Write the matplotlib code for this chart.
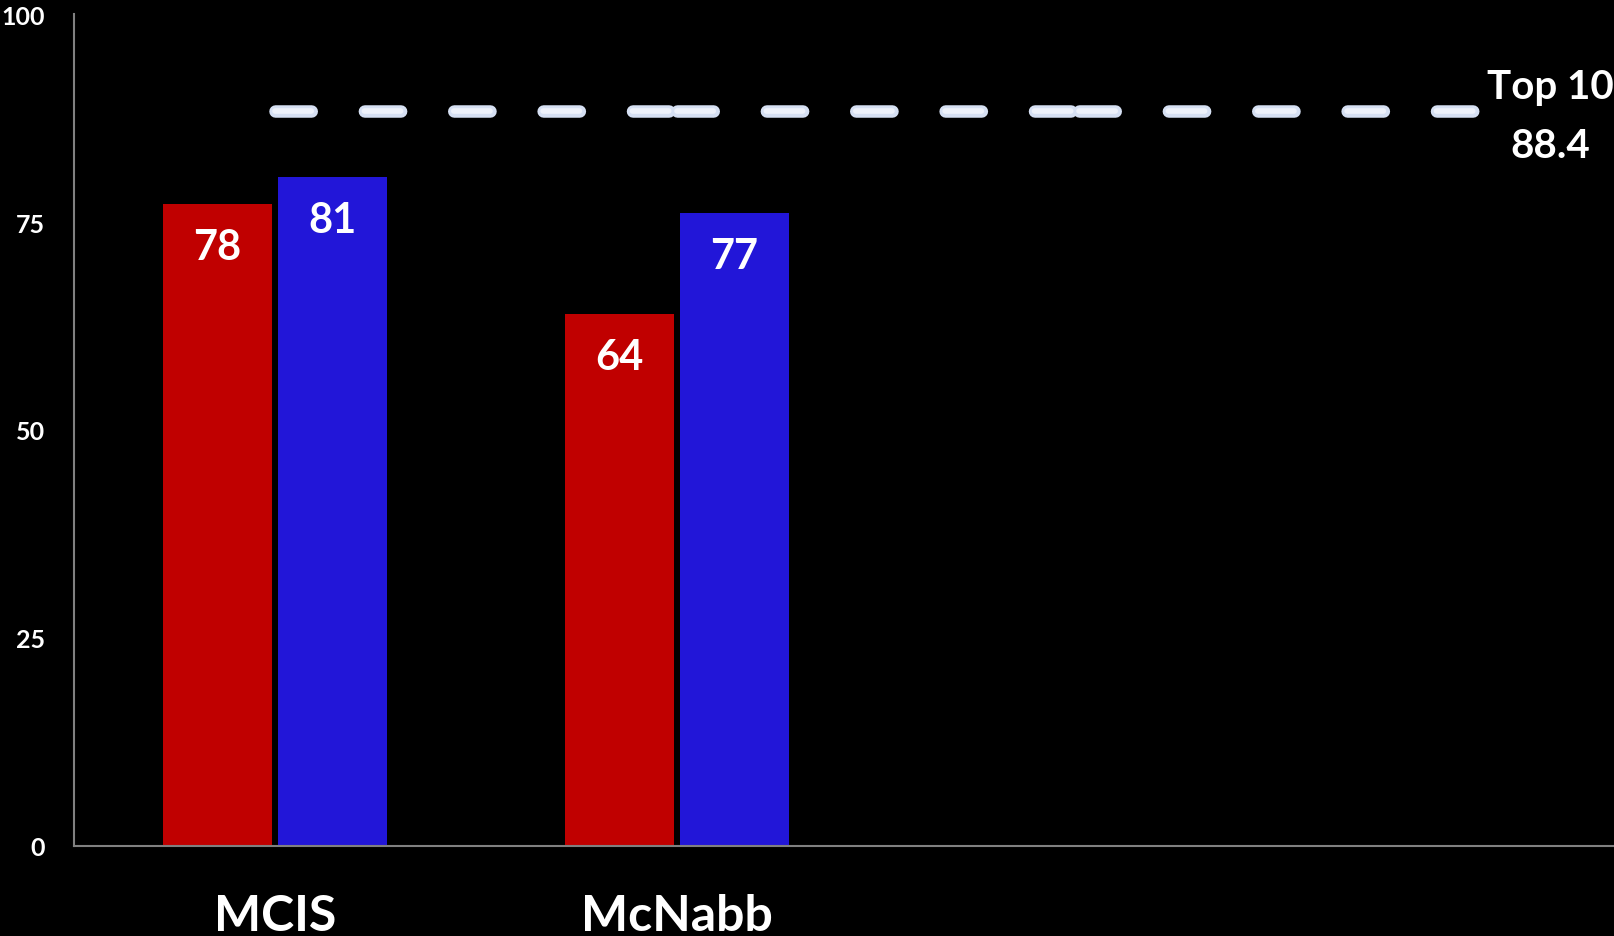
import matplotlib.pyplot as plt
import numpy as np

categories = ["MCIS", "McNabb", "", ""]
red_vals = [77.2, 63.9]
blue_vals = [80.4, 76.1]
red_labels = ["78", "64"]
blue_labels = ["81", "77"]
top10 = [88.4, 88.4, 88.4, 88.4]
top10_name = "Top 10"
top10_value = "88.4"
yticks = [0, 25, 50, 75, 100]

plt.rcParams['font.family'] = ['Lato', 'DejaVu Sans']

fig = plt.figure(figsize=(16.15, 9.37), dpi=100, facecolor='black')
W, H = 1615., 937.
left, right, top, bottom = 74, 1682, 15, 847
ax = fig.add_axes([left / W, 1 - bottom / H, (right - left) / W, (bottom - top) / H])
ax.set_facecolor('black')

x = np.arange(len(categories))
bw = 0.271
off = 0.143
xr = x[:len(red_vals)] - off
xb = x[:len(blue_vals)] + off
ax.bar(xr, red_vals, width=bw, color='#c00000', zorder=2)
ax.bar(xb, blue_vals, width=bw, color='#2216d8', zorder=2)

for xs, vals, labs in [(xr, red_vals, red_labels), (xb, blue_vals, blue_labels)]:
	for xi, v, t in zip(xs, vals, labs):
		ax.annotate(t, (xi, v), xytext=(0, -31), textcoords='offset points',
			ha='center', va='center', color='white', fontsize=30, fontweight='bold')

# line series: each segment restarts the dash pattern
lw = 9
for i in range(len(top10) - 1):
	ax.plot(x[i:i + 2], top10[i:i + 2], color='#d6e0f3', lw=lw, solid_capstyle='round',
		dash_capstyle='round', dashes=(2.9, 4.25), zorder=3, clip_on=False)
	ax.plot(x[i:i + 2], top10[i:i + 2], color='#eef2fb', lw=lw * 0.45, solid_capstyle='round',
		dash_capstyle='round', dashes=(2.9 / 0.45, 4.25 / 0.45), zorder=4, clip_on=False)

ax.annotate(top10_name, (x[-1], top10[-1]), xytext=(50, 17), textcoords='offset points',
	ha='center', va='center', color='white', fontsize=29, fontweight='bold',
	annotation_clip=False)
ax.annotate(top10_value, (x[-1], top10[-1]), xytext=(50, -25), textcoords='offset points',
	ha='center', va='center', color='white', fontsize=29, fontweight='bold',
	annotation_clip=False)

ax.set_xlim(-0.5, len(categories) - 0.5)
ax.set_ylim(0, 100)
ax.set_yticks(yticks)
ax.set_xticks(x)
ax.set_xticklabels(categories, fontsize=36, fontweight='bold', color='white')
ax.tick_params(axis='x', length=0, pad=34)
ax.tick_params(axis='y', length=0, pad=21, labelsize=18, labelcolor='white')
for lab in ax.get_yticklabels():
	lab.set_fontweight('bold')

for s in ['top', 'right']:
	ax.spines[s].set_visible(False)
for s in ['left', 'bottom']:
	ax.spines[s].set_color('#808080')
	ax.spines[s].set_linewidth(1.5)

plt.savefig('out.png', facecolor='black')
